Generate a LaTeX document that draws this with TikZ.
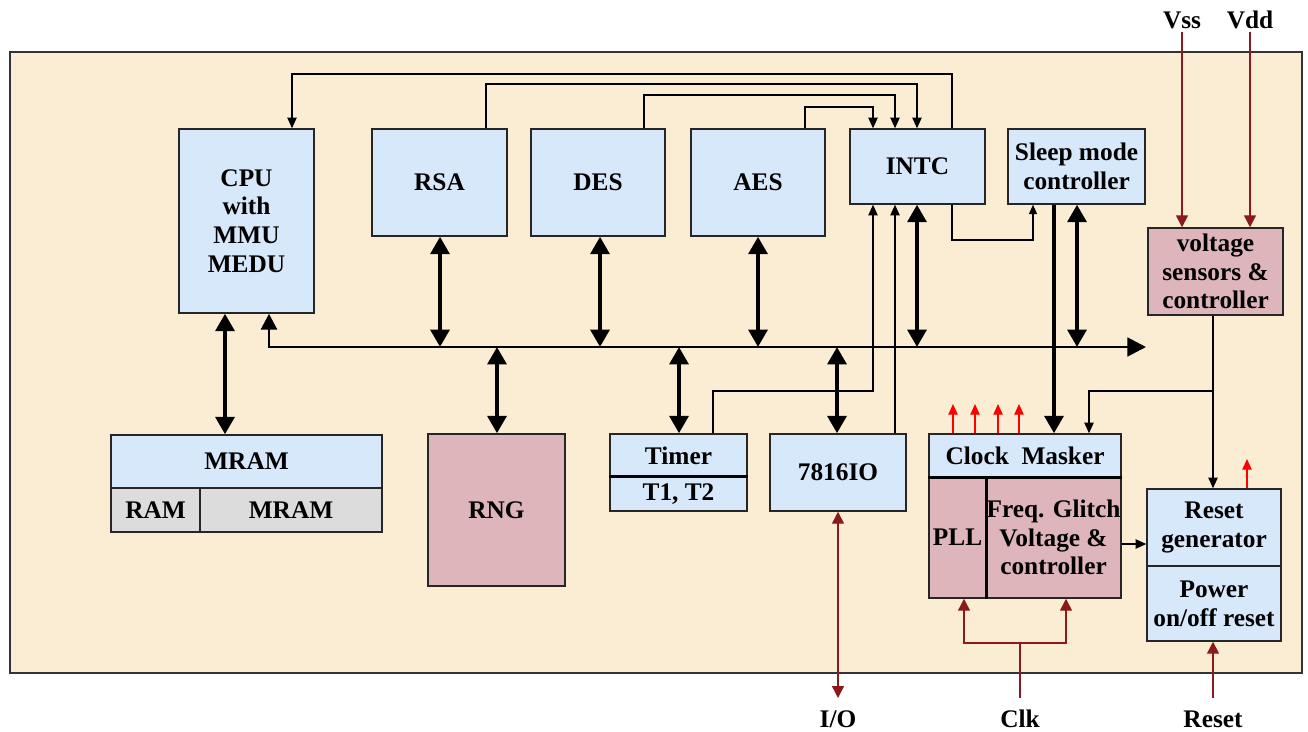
\documentclass[tikz,border=0pt]{standalone}
\usepackage{fontspec}
\setmainfont{Liberation Serif}
\usetikzlibrary{arrows.meta}
\definecolor{panelc}{HTML}{FAEDD3}
\definecolor{blueb}{HTML}{D6E8FA}
\definecolor{pinkb}{HTML}{DDB5BB}
\definecolor{grayb}{HTML}{DCDCDC}
\definecolor{dred}{HTML}{8B1A1A}
\tikzset{
  txt/.style={font=\fontsize{19}{21.5}\selectfont\bfseries, align=center, text=black},
  box/.style={txt, draw=black!85, line width=1.1pt, inner sep=0pt},
  bluebox/.style={box, fill=blueb},
  pinkbox/.style={box, fill=pinkb},
  graybox/.style={box, fill=grayb},
  lbl/.style={txt, inner sep=1pt},
  thinc/.style={line width=1pt, -{Triangle[length=8pt,width=7pt]}},
  dbl/.style={line width=3pt, {Triangle[length=13pt,width=14pt]}-{Triangle[length=13pt,width=14pt]}},
  bus/.style={line width=2.2pt, {Triangle[length=12pt,width=12pt]}-{Triangle[length=14pt,width=14pt]}},
  thickarr/.style={line width=3pt, -{Triangle[length=13pt,width=14pt]}},
  redarr/.style={red, line width=1pt, -{Triangle[length=8pt,width=7pt]}},
  darr/.style={dred, line width=1.1pt, -{Triangle[length=9pt,width=9pt]}},
  ddbl/.style={dred, line width=1.1pt, {Triangle[length=9pt,width=9pt]}-{Triangle[length=9pt,width=9pt]}},
}
% \mkblk{style}{name}{x1}{y1}{x2}{y2}{text}  (pixel coordinates)
\newcommand\mkblk[7]{%
  \pgfmathsetmacro\bkw{(#5-#3)*0.75}%
  \pgfmathsetmacro\bkh{(#6-#4)*0.75}%
  \pgfmathsetmacro\bkx{(#3+#5)/2}%
  \pgfmathsetmacro\bky{(#4+#6)/2}%
  \node[#1, minimum width=\bkw pt, minimum height=\bkh pt] (#2) at (\bkx,\bky) {#7};}
\begin{document}
\begin{tikzpicture}[x=0.75pt, y=-0.75pt]
\useasboundingbox (0,0) rectangle (1308,731);
\fill[white] (0,0) rectangle (1308,731);
% panel
\draw[fill=panelc, draw=black!80, line width=1.3pt] (10,52) rectangle (1302,673);

% blocks
\mkblk{bluebox}{cpu}{179}{129}{314}{313}{CPU\\with\\MMU\\MEDU}
\mkblk{bluebox}{rsa}{372}{129}{507}{236}{RSA}
\mkblk{bluebox}{des}{531}{129}{665}{236}{DES}
\mkblk{bluebox}{aes}{691}{129}{825}{236}{AES}
\mkblk{bluebox}{intc}{850}{129}{985}{204}{INTC}
\mkblk{bluebox}{sleep}{1008}{129}{1145}{204}{Sleep mode\\controller}
\mkblk{pinkbox}{volt}{1148}{228}{1283}{315}{voltage\\sensors \&\\controller}

\mkblk{bluebox}{mram}{111}{435}{382}{488}{MRAM}
\mkblk{graybox}{ram}{111}{488}{200}{532}{RAM}
\mkblk{graybox}{mram2}{200}{488}{382}{532}{MRAM}

\mkblk{pinkbox}{rng}{428}{434}{565}{586}{RNG}

\mkblk{bluebox}{timer}{610}{434}{747}{477}{Timer}
\mkblk{bluebox}{t12}{610}{477}{747}{511}{T1, T2}
\draw[line width=2pt] (t12.north west) -- (t12.north east);

\mkblk{bluebox}{io}{770}{434}{906}{511}{7816IO}

\mkblk{bluebox}{cm}{929}{434}{1121}{477}{Clock\ \ Masker}
\mkblk{pinkbox}{pll}{929}{477}{986}{598}{PLL}
\mkblk{pinkbox}{freq}{986}{477}{1121}{598}{Freq. Glitch\\Voltage \&\\controller}
\draw[line width=2.4pt] (cm.south west) -- (cm.south east);
\draw[line width=2.4pt] (pll.north east) -- (pll.south east);

\mkblk{bluebox}{rg}{1147}{489}{1281}{566}{Reset\\generator}
\mkblk{bluebox}{por}{1147}{566}{1281}{641}{Power\\on/off reset}

% outside labels
\node[lbl] (vss) at (1182,20) {Vss};
\node[lbl] (vdd) at (1250,20) {Vdd};
\node[lbl] (iol) at (838,719) {I/O};
\node[lbl] (clk) at (1020,719) {Clk};
\node[lbl] (rst) at (1213,719) {Reset};

% top interrupt lines
\coordinate (t1a) at (952,74);  \coordinate (t1b) at (292,74);
\draw[thinc] (intc.north -| t1a) -- (t1a) -- (t1b) -- (cpu.north -| t1b);
\coordinate (t2a) at (486,84);  \coordinate (t2b) at (917,84);
\draw[thinc] (rsa.north -| t2a) -- (t2a) -- (t2b) -- (intc.north -| t2b);
\coordinate (t3a) at (644,95);  \coordinate (t3b) at (895,95);
\draw[thinc] (des.north -| t3a) -- (t3a) -- (t3b) -- (intc.north -| t3b);
\coordinate (t4a) at (805,107); \coordinate (t4b) at (873,107);
\draw[thinc] (aes.north -| t4a) -- (t4a) -- (t4b) -- (intc.north -| t4b);

% INTC -> sleep
\coordinate (s1a) at (952,240); \coordinate (s1b) at (1033,240);
\draw[line width=1pt, -{Triangle[length=7pt,width=6pt]}] (intc.south -| s1a) -- (s1a) -- (s1b) -- (sleep.south -| s1b);

% bus
\coordinate (busL) at (269,347); \coordinate (busR) at (1146,347);
\draw[bus] (cpu.south -| busL) -- (busL) -- (busR);

% double arrows
\coordinate (d1) at (225,0);
\draw[dbl] (cpu.south -| d1) -- (mram.north -| d1);
\coordinate (d2) at (440,0);
\draw[dbl] (rsa.south -| d2) -- (d2 |- busL);
\coordinate (d3) at (600,0);
\draw[dbl] (des.south -| d3) -- (d3 |- busL);
\coordinate (d4) at (758,0);
\draw[dbl] (aes.south -| d4) -- (d4 |- busL);
\coordinate (d5) at (917,0);
\draw[dbl] (intc.south -| d5) -- (d5 |- busL);
\coordinate (d6) at (1077,0);
\draw[dbl] (sleep.south -| d6) -- (d6 |- busL);
\coordinate (d7) at (497,0);
\draw[dbl] (d7 |- busL) -- (rng.north -| d7);
\coordinate (d8) at (679,0);
\draw[dbl] (d8 |- busL) -- (timer.north -| d8);
\coordinate (d9) at (837,0);
\draw[dbl] (d9 |- busL) -- (io.north -| d9);

% timer / io interrupts
\coordinate (ti1) at (713,391); \coordinate (ti2) at (873,391);
\draw[thinc] (timer.north -| ti1) -- (ti1) -- (ti2) -- (intc.south -| ti2);
\coordinate (io1) at (895,0);
\draw[thinc] (io.north -| io1) -- (intc.south -| io1);

% sleep -> clock masker
\coordinate (k1) at (1054,0);
\draw[thickarr] (sleep.south -| k1) -- (cm.north -| k1);

% voltage sensors -> reset generator and clock masker
\coordinate (v1) at (1213,391); \coordinate (v2) at (1089,391);
\draw[thinc] (volt.south -| v1) -- (rg.north -| v1);
\draw[thinc] (v1) -- (v2) -- (cm.north -| v2);

% red outputs
\foreach \xx in {953,975,998,1019}{
  \coordinate (r\xx) at (\xx,404);
  \draw[redarr] (cm.north -| r\xx) -- (r\xx);
}
\coordinate (rr) at (1247,459);
\draw[redarr] (rg.north -| rr) -- (rr);

% freq -> reset gen
\coordinate (f1) at (0,544);
\draw[thinc] (freq.east |- f1) -- (rg.west |- f1);

% external pins
\coordinate (c0) at (1020,698); \coordinate (c1) at (1020,643);
\coordinate (cL) at (964,643);  \coordinate (cR) at (1066,643);
\draw[dred, line width=1.1pt] (c0) -- (c1);
\draw[darr] (c1) -- (cL) -- (pll.south -| cL);
\draw[darr] (c1) -- (cR) -- (freq.south -| cR);
\coordinate (rs0) at (1213,698);
\draw[darr] (rs0) -- (por.south -| rs0);
\coordinate (io0) at (838,698);
\draw[ddbl] (io.south -| io0) -- (io0);
\coordinate (vs0) at (1182,32); \coordinate (vd0) at (1250,32);
\draw[darr] (vs0) -- (volt.north -| vs0);
\draw[darr] (vd0) -- (volt.north -| vd0);
\end{tikzpicture}
\end{document}
